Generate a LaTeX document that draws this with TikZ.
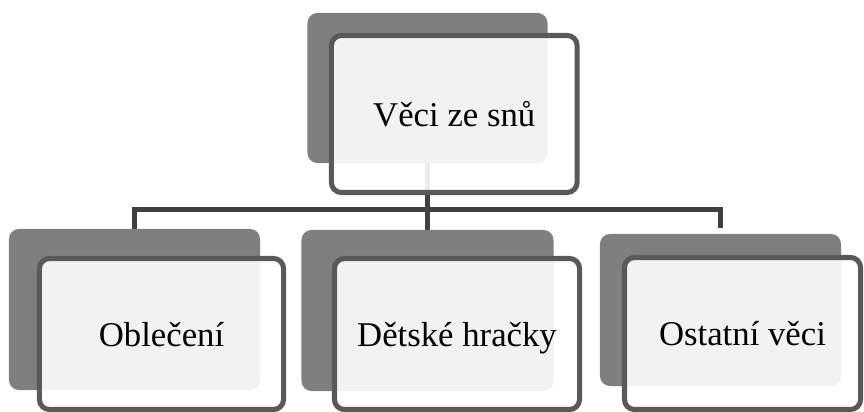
\documentclass[tikz,border=0pt]{standalone}
\usepackage{fontspec}
\setmainfont{Liberation Serif}
\usetikzlibrary{backgrounds}

\definecolor{backgray}{HTML}{7F7F7F}
\definecolor{edgegray}{HTML}{595959}
\definecolor{linkgray}{HTML}{404040}

\tikzset{
  back/.style={rectangle, rounded corners=0.25cm, fill=backgray, outer sep=0pt, inner sep=0pt},
  front/.style={rectangle, rounded corners=0.25cm, draw=edgegray, line width=3.6pt,
    fill=white, fill opacity=0.9, text opacity=1,
    font=\fontsize{24.7}{30}\selectfont, text height=0.62cm, text depth=0cm},
  link/.style={draw=linkgray, line width=3.8pt}
}

\begin{document}
\begin{tikzpicture}[x=0.025cm,y=-0.025cm]
\useasboundingbox (0,0) rectangle (864,412);

% top box
\node[back, minimum width=6cm, minimum height=3.75cm] (topback) at (427.5,88) {};
\node[front, minimum width=6.14cm, minimum height=3.925cm] (top) at (454.25,114) {Věci ze snů};

% boxes below
\node[back, minimum width=6.275cm, minimum height=4.025cm] (leftback) at (134.5,309.5) {};
\node[front, minimum width=6.1cm, minimum height=3.775cm] (left) at (161.5,334) {Oblečení};

\node[back, minimum width=6.3cm, minimum height=4.025cm] (midback) at (427.5,310.5) {};
\node[front, minimum width=6.125cm, minimum height=3.775cm] (mid) at (457,334) {Dětské hračky};

\node[back, minimum width=6.025cm, minimum height=3.8cm] (rightback) at (720.5,310) {};
\node[front, minimum width=5.9cm, minimum height=3.8cm] (right) at (742.5,333.5) {Ostatní věci};

% connectors
\begin{pgfonlayer}{background}
\coordinate (bus) at (427.5,209.5);
\draw[link] (topback.south) -- (bus);
\draw[link] (leftback.north) |- (bus) -| ([yshift=0.15cm]rightback.north);
\draw[link] (bus) -- (midback.north);
\end{pgfonlayer}
\end{tikzpicture}
\end{document}
